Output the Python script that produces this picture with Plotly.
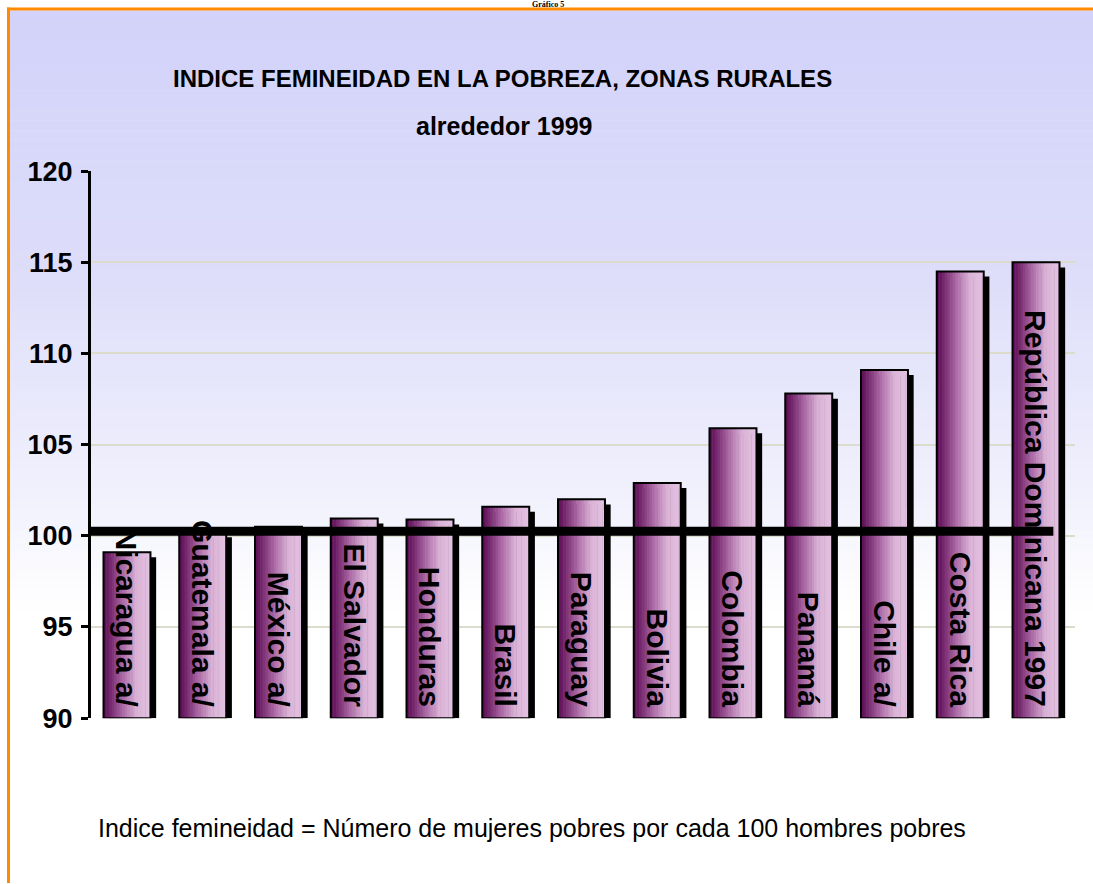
import plotly.graph_objects as go

# ---------------- data ----------------
countries = ["Nicaragua a/", "Guatemala a/", "México a/", "El Salvador", "Honduras",
             "Brasil", "Paraguay", "Bolivia", "Colombia", "Panamá", "Chile a/",
             "Costa Rica", "República Dominicana 1997"]
index_values = [99.1, 100.2, 100.5, 100.95, 100.9, 101.6, 102.0, 102.9,
                105.9, 107.8, 109.1, 114.5, 115.0]
y_ticks = [90, 95, 100, 105, 110, 115, 120]
parity_value = 100

title_line1 = "INDICE FEMINEIDAD EN LA POBREZA, ZONAS RURALES"
title_line2 = "alrededor 1999"
footnote = "Indice femineidad = Número de mujeres pobres por cada 100 hombres pobres"
header = "Gráfico 5"

# ---------------- style ----------------
W, H = 1093, 884
SANS = "Liberation Sans, Arial, sans-serif"
SERIF = "Liberation Serif, Times New Roman, serif"
BASE = 90
BAR_W = 0.62
N_STRIPS = 18

# vertical placement: the plot surface is laid out slightly shorter than the
# window and offset from its top; convert target pixel rows to paper fractions.
TOP_OFF = 14.6
EFF_H = 855.5


def py(row):
    return 1 - (row - TOP_OFF) / EFF_H


def px(col):
    return col / W


def lerp_color(stops, t):
    for (t0, c0), (t1, c1) in zip(stops, stops[1:]):
        if t0 <= t <= t1:
            f = 0 if t1 == t0 else (t - t0) / (t1 - t0)
            c = [round(a + (b - a) * f) for a, b in zip(c0, c1)]
            return "rgb(%d,%d,%d)" % tuple(c)
    return "rgb(%d,%d,%d)" % tuple(stops[-1][1])


bar_stops = [(0.0, (90, 12, 84)), (0.12, (112, 34, 104)), (0.4, (170, 104, 164)),
             (0.7, (218, 178, 214)), (1.0, (228, 194, 226))]
bg_stops = [(0.0, (210, 210, 250)), (0.45, (222, 222, 250)), (0.8, (240, 240, 253)),
            (1.0, (255, 255, 255))]

fig = go.Figure()

# drop shadow
fig.add_trace(go.Bar(
    x=countries, y=[v - BASE - 0.28 for v in index_values], base=BASE,
    width=BAR_W, offset=-BAR_W / 2 + 0.075,
    marker=dict(color="black", line=dict(width=0)), hoverinfo="skip", showlegend=False))

# gradient fill built from narrow strips
step = BAR_W / N_STRIPS
for i in range(N_STRIPS):
    fig.add_trace(go.Bar(
        x=countries, y=[v - BASE for v in index_values], base=BASE,
        width=step * 1.2 if i < N_STRIPS - 1 else step, offset=-BAR_W / 2 + i * step,
        marker=dict(color=lerp_color(bar_stops, (i + 0.5) / N_STRIPS), line=dict(width=0)),
        hoverinfo="skip", showlegend=False))

# outline + labels
fig.add_trace(go.Bar(
    x=countries, y=[v - BASE for v in index_values], base=BASE,
    width=BAR_W, offset=-BAR_W / 2,
    marker=dict(color="rgba(0,0,0,0)", line=dict(color="black", width=2)),
    text=[c + "\u00a0" for c in countries], textposition="inside", insidetextanchor="start",
    textangle=90, constraintext="none",
    insidetextfont=dict(family=SANS, size=30, color="black", weight="bold"),
    hovertemplate="%{x}: %{y}<extra></extra>", showlegend=False))

shapes = []
# background gradient (figure-wide) from horizontal strips
top_px, bot_px = 10, 610
n_bg = 60
for i in range(n_bg):
    r0 = top_px + (bot_px - top_px) * i / n_bg
    r1 = top_px + (bot_px - top_px) * (i + 1) / n_bg + 0.6
    shapes.append(dict(type="rect", xref="paper", yref="paper", layer="below",
                       x0=px(10), x1=1.0, y0=py(r1), y1=py(r0),
                       fillcolor=lerp_color(bg_stops, (i + 0.5) / n_bg), line=dict(width=0)))
# orange frame
shapes.append(dict(type="line", xref="paper", yref="paper", x0=px(7), x1=1.0,
                   y0=py(8.5), y1=py(8.5), line=dict(color="#ff8a00", width=3)))
shapes.append(dict(type="line", xref="paper", yref="paper", x0=px(8.5), x1=px(8.5),
                   y0=py(884), y1=py(7), line=dict(color="#ff8a00", width=3)))
# thick parity line
shapes.append(dict(type="line", xref="x domain", yref="y", x0=0, x1=0.978,
                   y0=parity_value + 0.25, y1=parity_value + 0.25, layer="above",
                   line=dict(color="black", width=9)))

annotations = [
    dict(text=header, x=px(548), y=py(0), xref="paper", yref="paper",
         showarrow=False, xanchor="center", yanchor="top", borderpad=0, borderwidth=0,
         font=dict(family=SERIF, size=8, color="black", weight="bold")),
    dict(text=title_line1, x=px(502), y=py(78), xref="paper", yref="paper",
         showarrow=False, xanchor="center", yanchor="middle",
         font=dict(family=SANS, size=24, color="black", weight="bold")),
    dict(text=title_line2, x=px(504), y=py(126), xref="paper", yref="paper",
         showarrow=False, xanchor="center", yanchor="middle",
         font=dict(family=SANS, size=25, color="black", weight="bold")),
    dict(text=footnote, x=px(532), y=py(829), xref="paper", yref="paper",
         showarrow=False, xanchor="center", yanchor="middle",
         font=dict(family=SANS, size=25, color="black")),
]

fig.update_layout(
    width=W, height=H, margin=dict(l=0, r=0, t=0, b=0),
    paper_bgcolor="white", plot_bgcolor="rgba(0,0,0,0)",
    barmode="overlay", showlegend=False,
    shapes=shapes, annotations=annotations,
    xaxis=dict(domain=[px(91), px(1075)], range=[-0.475, 12.515], type="category",
               showticklabels=False, showgrid=False, zeroline=False, showline=False,
               ticks=""),
    yaxis=dict(domain=[py(719), py(171)], range=[90, 120],
               tickvals=y_ticks, ticktext=[str(t) for t in y_ticks],
               showgrid=True, gridcolor="#dcdccc", gridwidth=2, zeroline=False,
               showline=True, linecolor="black", linewidth=3,
               ticks="outside", ticklen=7, tickwidth=3, tickcolor="black",
               ticklabelstandoff=3,
               tickfont=dict(family=SANS, size=27, color="black", weight="bold")),
)

fig.write_html(
    "out.html",
    config={"displayModeBar": False},
    post_script="document.body.style.margin='0';document.body.style.overflow='hidden';",
)
